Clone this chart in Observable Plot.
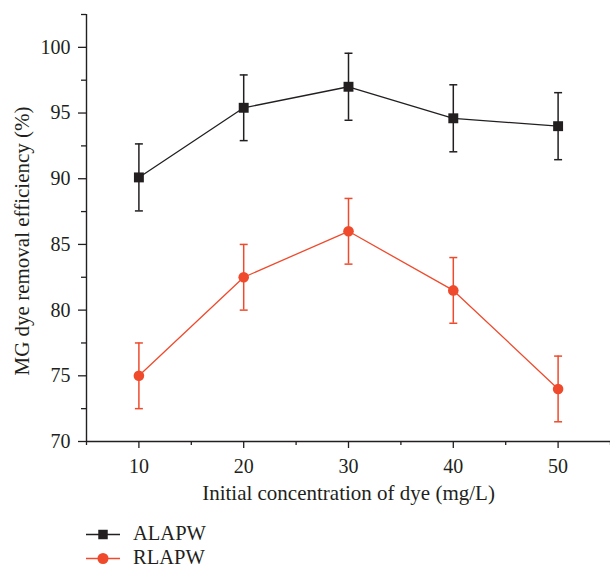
<!DOCTYPE html>
<html>
<head>
<meta charset="utf-8">
<script src="https://cdn.jsdelivr.net/npm/d3@7"></script>
<script src="https://cdn.jsdelivr.net/npm/@observablehq/plot@0.6"></script>
<style>
  body { margin: 0; background: #fff; }
  #chart { width: 610px; font-family: "Liberation Serif", serif; color: #231f20; }
  .legend { position: relative; height: 64px; }
  .legend .row { position: absolute; left: 86px; height: 16px; width: 200px; }
  .legend svg { position: absolute; left: 0; top: 0; display: block; overflow: visible; }
  .legend span { position: absolute; left: 47px; top: 0; height: 16px; line-height: 16px; font-size: 20.5px; white-space: nowrap; }
</style>
</head>
<body>
<div id="chart"></div>
<script>
// Initial dye concentration (mg/L)
const concentration = [10, 20, 30, 40, 50];
// MG dye removal efficiency (%) and standard deviation for each adsorbent
const alapw = [90.1, 95.4, 97.0, 94.6, 94.0];
const alapwErr = [2.55, 2.5, 2.55, 2.55, 2.55];
const rlapw = [75.0, 82.5, 86.0, 81.5, 74.0];
const rlapwErr = [2.5, 2.5, 2.5, 2.5, 2.5];

const seriesNames = ["ALAPW", "RLAPW"];
const seriesColors = ["#231f20", "#ef4a2c"];
const seriesSymbols = ["square", "circle"];

const xTicks = [10, 20, 30, 40, 50];
const xMinorTicks = [5, 15, 25, 35, 45, 55];
const yTicks = [70, 75, 80, 85, 90, 95, 100];
const yMinorTicks = [72.5, 77.5, 82.5, 87.5, 92.5, 97.5, 102.5];

const xLabel = "Initial concentration of dye (mg/L)";
const yLabel = "MG dye removal efficiency (%)";

const rows = [];
[alapw, rlapw].forEach((values, s) => {
  const errs = s === 0 ? alapwErr : rlapwErr;
  concentration.forEach((c, i) => {
    rows.push({series: seriesNames[s], conc: c, value: values[i], err: errs[i]});
  });
});

const ink = "#231f20";
const capHalf = 0.38;

const plot = Plot.plot({
  width: 610,
  height: 505,
  marginLeft: 86,
  marginRight: 0,
  marginTop: 14,
  marginBottom: 64,
  style: {fontFamily: "Liberation Serif, serif", fontSize: "20px", color: ink, background: "#fff"},
  x: {domain: [5, 55]},
  y: {domain: [70, 102.5]},
  color: {domain: seriesNames, range: seriesColors},
  symbol: {domain: seriesNames, range: seriesSymbols},
  marks: [
    Plot.axisX(xTicks, {tickSize: 7, tickPadding: 10, label: null, stroke: ink, strokeWidth: 1.3, fontSize: 20, fill: ink}),
    Plot.axisX(xMinorTicks, {tickSize: 4, text: null, label: null, stroke: ink, strokeWidth: 1.3}),
    Plot.axisY(yTicks, {tickSize: 8, tickPadding: 8, label: null, stroke: ink, strokeWidth: 1.3, fontSize: 20, fill: ink}),
    Plot.axisY(yMinorTicks, {tickSize: 5, text: null, label: null, stroke: ink, strokeWidth: 1.3}),
    Plot.ruleX([5], {stroke: ink, strokeWidth: 1.4}),
    Plot.ruleY([70], {stroke: ink, strokeWidth: 1.4}),
    Plot.text([xLabel], {frameAnchor: "bottom", textAnchor: "middle", lineAnchor: "middle", dy: 52, fontSize: 21, fill: ink}),
    Plot.text([yLabel], {frameAnchor: "left", textAnchor: "middle", lineAnchor: "middle", dx: -64, dy: 13, rotate: -90, fontSize: 21, fill: ink}),
    // error bars with caps
    Plot.ruleX(rows, {x: "conc", y1: d => d.value - d.err, y2: d => d.value + d.err, stroke: "series", strokeWidth: 1.5}),
    Plot.link(rows, {x1: d => d.conc - capHalf, x2: d => d.conc + capHalf, y1: d => d.value + d.err, y2: d => d.value + d.err, stroke: "series", strokeWidth: 1.5}),
    Plot.link(rows, {x1: d => d.conc - capHalf, x2: d => d.conc + capHalf, y1: d => d.value - d.err, y2: d => d.value - d.err, stroke: "series", strokeWidth: 1.5}),
    Plot.line(rows, {x: "conc", y: "value", z: "series", stroke: "series", strokeWidth: 1.3}),
    Plot.dot(rows.filter(d => d.series === "ALAPW"), {x: "conc", y: "value", symbol: "square", r: 5.6, fill: "series", stroke: "none"}),
    Plot.dot(rows.filter(d => d.series === "RLAPW"), {x: "conc", y: "value", symbol: "circle", r: 5.3, fill: "series", stroke: "none"})
  ]
});

const chart = document.getElementById("chart");
chart.appendChild(plot);

// Legend below the plot
const legend = document.createElement("div");
legend.className = "legend";
seriesNames.forEach((name, i) => {
  const row = document.createElement("div");
  row.className = "row";
  row.style.top = (20.3 + i * 24) + "px";
  const sw = d3.create("svg").attr("width", 34).attr("height", 16);
  sw.append("line").attr("x1", 0).attr("x2", 34).attr("y1", 9.5).attr("y2", 9.5)
    .attr("stroke", seriesColors[i]).attr("stroke-width", 1.5);
  const sym = d3.symbol(seriesSymbols[i] === "square" ? d3.symbolSquare : d3.symbolCircle,
    seriesSymbols[i] === "square" ? 90 : 95);
  sw.append("path").attr("d", sym()).attr("transform", "translate(17,9.5)").attr("fill", seriesColors[i]);
  row.appendChild(sw.node());
  const label = document.createElement("span");
  label.textContent = name;
  row.appendChild(label);
  legend.appendChild(row);
});
chart.appendChild(legend);
</script>
</body>
</html>
